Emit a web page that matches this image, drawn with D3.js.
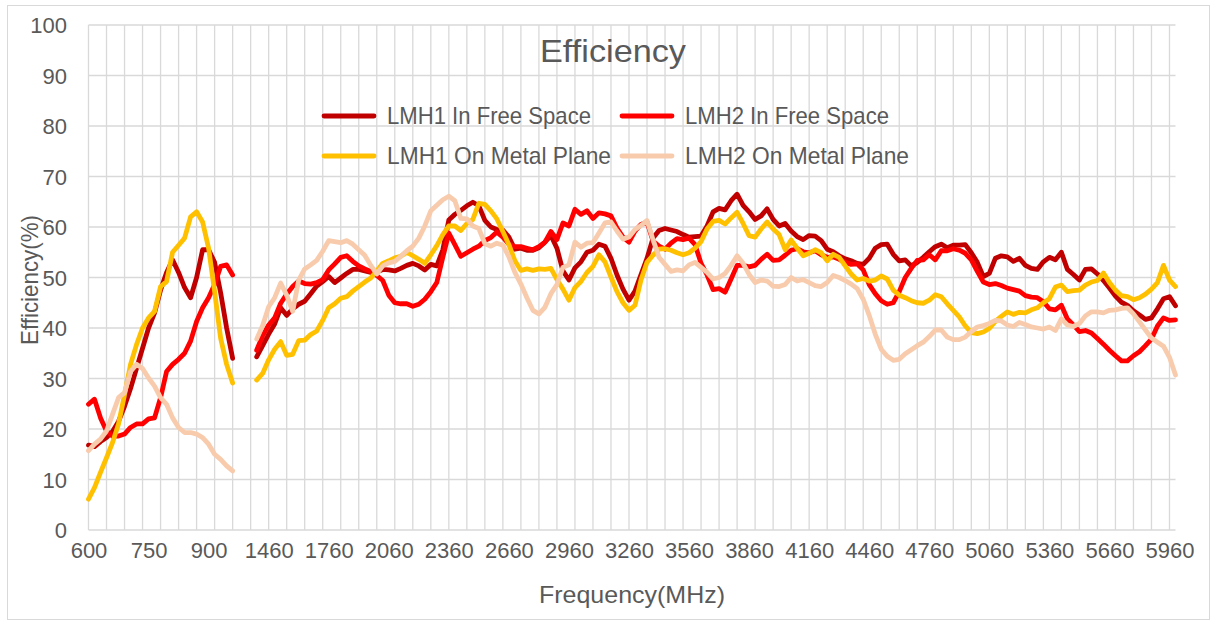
<!DOCTYPE html>
<html><head><meta charset="utf-8">
<script src="https://cdn.jsdelivr.net/npm/d3@7"></script>
<style>
html,body{margin:0;padding:0;background:#fff;}
svg text{font-family:"Liberation Sans Narrow","Liberation Sans",Arial,sans-serif;fill:#595959;}
</style></head>
<body><svg id="chart" width="1215" height="624"></svg>
<script>
// ---- categories (MHz) ----
const lowBandFreqs = d3.range(600, 961, 15);      // 25 points, 600..960
const gapSlots = [null, null, null];               // empty categories between bands
const highBandFreqs = d3.range(1400, 5991, 30);    // 154 points, 1400..5990
const tickLabels = ["600","750","900","1460","1760","2060","2360","2660","2960","3260","3560","3860","4160","4460","4760","5060","5360","5660","5960"];
const yTicks = [0,10,20,30,40,50,60,70,80,90,100];
const seriesNames = ["LMH1 In Free Space","LMH2 In Free Space","LMH1 On Metal Plane","LMH2 On Metal Plane"];
const seriesColors = ["#C00000","#FF0000","#FFC000","#F8CBAD"];

// ---- efficiency (%) ----
const lmh1FreeLow = [16.8,16.5,17.5,18.3,19.5,21.5,24.5,28,32,36,40,43,47.5,51,53.5,51,48,46,50,55.5,55.5,53,47,40,34];
const lmh2FreeLow = [24.9,25.9,22.2,19.6,18.6,18.6,19,20.3,21,21,22,22.2,26.2,31.4,32.8,33.8,35,37.4,41.3,44,46,48.6,52.2,52.5,50.5];
const lmh1MetalLow = [6.1,8.4,11.4,14.3,17.3,21,26.8,32.8,36.7,40,42,43.3,48.2,49.2,55,56.4,57.8,62,63,61,55.8,47.2,38,32.8,29.1];
const lmh2MetalLow = [15.7,17,18,19.6,22.9,26.2,27.2,31.4,32.8,32,30.1,28.5,26.2,24.9,22.2,20.3,19.3,19.3,19,18.3,17,15,14,12.7,11.7];

const lmh1FreeHigh = [34.3,36.5,38.8,40.8,44,42.5,43.8,44.7,45.3,46.8,48.3,49.2,50.2,49,49.9,50.8,51.6,51.6,51.3,51,51.1,51.6,51.5,51.3,51.8,52.4,52.8,52.3,51.5,52.6,52.3,55.5,61.4,62.5,63.3,64.2,64.9,64.2,61.3,60,59.5,59.4,58,55.6,55.8,55.4,55.4,55.9,57,58.3,55.8,51.3,49.5,51.9,53.1,55,55.4,56.6,56.2,53.8,50.5,47.7,45.5,47.3,50.6,53.8,57.8,59.3,59.7,59.4,59.1,58.5,58,58.1,58.2,60.2,63,63.7,63.4,65.2,66.5,64.3,63,61.5,62.2,63.6,61.5,60.2,60.7,59.2,58.1,57.5,58.3,58.2,57.3,55.6,55.1,54.3,53.7,53.3,52.8,52.6,53.8,55.8,56.5,56.6,54.6,53.3,53.5,52.3,53,54,55.1,56.1,56.6,55.9,56.4,56.4,56.5,54.9,53,50.2,50.8,53.8,54.3,54.1,53.2,53.8,52.4,51.8,51.6,53.1,54,53.5,55,51.6,50.6,49.5,51.6,51.7,50.7,49.4,47.9,46.3,45.1,44.5,43.4,42.6,41.7,42,43.8,45.8,46.2,44.4];
const lmh2FreeHigh = [35.6,38.5,40.6,42,44.9,46.7,48.2,49.3,48.8,48.7,49,49.6,51.5,52.7,54,54.3,53.2,52.3,51.7,51.2,50.4,49.4,46.5,45,44.8,44.8,44.3,44.7,45.7,47.2,49,54,58.8,56.5,54.2,54.9,55.6,56.2,57.3,57.9,59,58,56.6,56.1,56.1,55.8,55.5,56.1,57,59.1,57.5,60.8,60.2,63.5,62.5,63.2,61.7,62.8,62.6,62.2,59.8,58,57,59.2,60.5,61,57.2,56.2,55.6,56.8,57.7,57.5,57.8,56.5,52.8,50.5,47.6,47.8,47.1,49.7,52.4,52.4,52.1,52.4,53.6,54.6,53.4,53.5,54.4,55.4,55.7,55.1,54.9,55.3,54.5,54,54.1,53.6,53,52.6,52.7,51.5,48.6,46.8,45.4,44.7,45,47.2,50,51.8,53.4,53.5,54.5,53.5,55.3,55.3,55.7,55.4,54.8,53.5,51.2,49.1,48.6,48.8,48.4,47.9,47.6,47.3,46.4,46.1,46,45.2,43.8,43.6,44.5,41.8,40.6,39.3,39.5,39,37.9,36.8,35.6,34.5,33.5,33.5,34.5,35.3,36.5,37.8,40.4,42,41.5,41.6];
const lmh1MetalHigh = [29.7,31,33.7,35.8,37.3,34.6,34.8,37.5,37.6,38.7,39.4,41.5,44,44.8,45.9,46.2,47.3,48.2,49.1,49.9,51.3,52.8,53.3,53.9,54.2,55,54.3,53.6,52.8,54.5,56.3,58.5,60.2,60.2,59.3,60.7,61.5,64.7,64.5,63.2,61.6,59.1,56.5,53.3,51.4,51.7,51.4,51.7,51.6,51.8,49.6,47.7,45.5,48,49.2,51,52.2,54.5,53.1,50.1,47.2,45,43.5,44.5,49.5,53,54.4,55.6,55.7,55.4,54.9,54.5,54.9,55.8,57.1,59.6,61.1,61.3,60.6,61.8,62.9,60.7,58.3,58,59.6,61,59.6,58.5,55.5,57.4,55.8,54.3,54.8,55.5,54.9,53.3,54.6,54,52.3,50.7,49.5,49.8,49.3,49.5,50.3,49.7,47.5,46.5,46,45.4,45,44.9,45.5,46.6,46.2,44.8,43.5,42.2,40.4,39.1,38.9,39.2,39.9,41.3,42.3,43.2,42.7,43.1,43,43.6,44,45,45.8,48.1,48.5,47.2,47.4,47.5,48.5,49.1,49.4,50.9,49,47.5,46.4,46.2,45.6,46,46.7,47.7,49,52.4,49.5,48.2];
const lmh2MetalHigh = [37.8,40.5,44.2,46,48.9,46.5,43.3,49.5,51.7,52.5,53.4,55.2,57.3,57.1,56.9,57.3,56.6,55.5,54.4,52.4,50.7,52.3,52.9,53.2,54.2,55.3,56.2,57.8,60.2,63.2,64.3,65.4,66.1,65.2,61.7,61.6,60.2,59.7,56.7,56.2,56.8,56.4,54.1,51,48.7,46,43.5,42.8,44.1,46.8,48.6,52,52.5,57,56,56.8,56.9,58.8,60.8,61,59.2,57.6,58,59.5,60.3,61.3,57.5,54,52.6,51.2,51.5,51.3,52.5,53,52,51,49.7,50,50.8,52.4,54.3,52.8,50.6,49,49.5,49.3,48.3,48.2,48.6,50,49.3,49.6,49,48.4,48.2,49,50.4,50,49.4,48.7,47.8,45.7,42.5,38.8,35.8,34.4,33.6,33.8,34.9,35.7,36.5,37.2,38.3,39.6,39.6,38.2,37.7,37.7,38.2,39.3,40.2,40.5,40.9,41.5,41.4,40.6,40.3,41.1,40.7,40.2,40,39.8,40.2,39.5,41.8,40.6,40.3,40.9,42.4,43.2,43.2,43,43.5,43.6,43.9,44,42.8,41.2,39.6,38,37.2,36.4,34.2,30.7];

// ---- build table ----
const categories = [...lowBandFreqs, ...gapSlots, ...highBandFreqs];
const seriesValues = [
  [...lmh1FreeLow, ...gapSlots, ...lmh1FreeHigh],
  [...lmh2FreeLow, ...gapSlots, ...lmh2FreeHigh],
  [...lmh1MetalLow, ...gapSlots, ...lmh1MetalHigh],
  [...lmh2MetalLow, ...gapSlots, ...lmh2MetalHigh]
];
const idx = d3.range(categories.length);

const svg = d3.select("#chart");
const plot = {left: 88.5, right: 1175.5, top: 25, bottom: 530};

const x = d3.scalePoint().domain(idx).range([plot.left, plot.right]).padding(0);
const y = d3.scaleLinear().domain([0, 100]).range([plot.bottom, plot.top]);

// outer border
svg.append("rect").attr("x", 7.5).attr("y", 5.5).attr("width", 1202).attr("height", 614)
  .attr("fill", "#fff").attr("stroke", "#D9D9D9").attr("stroke-width", 1);

// horizontal gridlines
const grid = svg.append("g").attr("stroke", "#D9D9D9").attr("stroke-width", 1.3);
grid.selectAll("line.h").data(yTicks).join("line").attr("class", "h")
  .attr("x1", plot.left).attr("x2", plot.right)
  .attr("y1", d => y(d)).attr("y2", d => y(d));
// vertical gridlines every 3 categories
grid.selectAll("line.v").data(idx.filter(i => i % 3 === 0)).join("line").attr("class", "v")
  .attr("x1", d => x(d)).attr("x2", d => x(d))
  .attr("y1", plot.top).attr("y2", plot.bottom);

// y axis labels
const yAxis = d3.axisLeft(y).tickValues(yTicks).tickSize(0).tickPadding(0);
const gy = svg.append("g").attr("transform", `translate(${67},0)`).call(yAxis);
gy.select(".domain").remove();
gy.selectAll("text").attr("font-size", 22).attr("dy", "0.36em")
  .style("font-family", "'Liberation Sans','Arial',sans-serif");

// x axis labels (every 10th category)
const labelIdx = idx.filter(i => i % 10 === 0);
const xAxis = d3.axisBottom(x).tickValues(labelIdx).tickSize(0).tickPadding(0)
  .tickFormat((d, i) => tickLabels[i]);
const gx = svg.append("g").attr("transform", `translate(0,${542})`).call(xAxis);
gx.select(".domain").remove();
gx.selectAll("text").attr("font-size", 22).attr("dy", "0.71em")
  .style("font-family", "'Liberation Sans','Arial',sans-serif");

// lines
const line = d3.line().defined(d => d.v != null).x(d => x(d.i)).y(d => y(d.v));
seriesValues.forEach((vals, s) => {
  svg.append("path")
    .datum(vals.map((v, i) => ({i, v})))
    .attr("fill", "none").attr("stroke", seriesColors[s]).attr("stroke-width", 4.8)
    .attr("stroke-linejoin", "round").attr("stroke-linecap", "round")
    .attr("d", line);
});

// title
svg.append("text").attr("x", 613).attr("y", 62).attr("text-anchor", "middle")
  .attr("font-size", 32).attr("textLength", 146).attr("lengthAdjust", "spacingAndGlyphs")
  .text("Efficiency");

// legend
const legendPos = [[322, 116], [620, 116], [322, 156], [620, 156]];
const legendW = [204, 204, 224, 224];
seriesNames.forEach((name, s) => {
  const [lx, ly] = legendPos[s];
  svg.append("line").attr("x1", lx + 2).attr("x2", lx + 52).attr("y1", ly).attr("y2", ly)
    .attr("stroke", seriesColors[s]).attr("stroke-width", 4.8).attr("stroke-linecap", "round");
  svg.append("text").attr("x", lx + 65).attr("y", ly + 8).attr("font-size", 24)
    .attr("textLength", legendW[s]).attr("lengthAdjust", "spacingAndGlyphs").text(name);
});

// axis titles
svg.append("text").attr("x", 632).attr("y", 603).attr("text-anchor", "middle")
  .attr("font-size", 24).attr("textLength", 186).attr("lengthAdjust", "spacingAndGlyphs")
  .text("Frequency(MHz)");
svg.append("text").attr("transform", "translate(38,280) rotate(-90)").attr("text-anchor", "middle")
  .attr("font-size", 24).attr("textLength", 130).attr("lengthAdjust", "spacingAndGlyphs")
  .text("Efficiency(%)");
</script></body></html>
